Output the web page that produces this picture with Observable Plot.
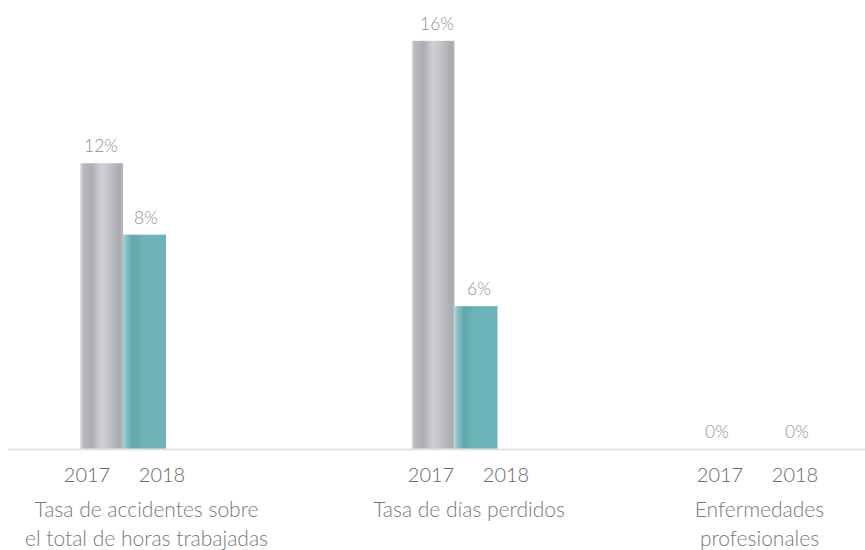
<!DOCTYPE html>
<html>
<head>
<meta charset="utf-8">
<script src="https://cdn.jsdelivr.net/npm/d3@7"></script>
<script src="https://cdn.jsdelivr.net/npm/@observablehq/plot@0.6"></script>
<style>
  body { margin: 0; background: #fff; font-family: "Lato Light", Lato, "Open Sans", sans-serif; }
  #chart { display: flex; width: 865px; height: 550px; overflow: hidden; }
  #chart svg { display: block; flex: none; }
</style>
</head>
<body>
<svg width="0" height="0" style="position:absolute">
  <defs>
    <linearGradient id="grayGrad" x1="0" x2="1" y1="0" y2="0">
      <stop offset="0%" stop-color="#e8e8ea"/>
      <stop offset="7%" stop-color="#b9babf"/>
      <stop offset="28%" stop-color="#adaeb4"/>
      <stop offset="50%" stop-color="#cfd0d4"/>
      <stop offset="66%" stop-color="#c3c4c9"/>
      <stop offset="92%" stop-color="#a9abb1"/>
      <stop offset="100%" stop-color="#b6b7bc"/>
    </linearGradient>
    <linearGradient id="tealGrad" x1="0" x2="1" y1="0" y2="0">
      <stop offset="0%" stop-color="#a9d3d6"/>
      <stop offset="8%" stop-color="#84c1c5"/>
      <stop offset="22%" stop-color="#60a8ae"/>
      <stop offset="45%" stop-color="#6cb2b7"/>
      <stop offset="100%" stop-color="#6db4ba"/>
    </linearGradient>
  </defs>
</svg>
<div id="chart"></div>
<script>
const categories = [
  "Tasa de accidentes sobre\nel total de horas trabajadas",
  "Tasa de días perdidos",
  "Enfermedades\nprofesionales"
];
const years = ["2017", "2018"];
const values2017 = [11.2, 16.0, 0];
const values2018 = [8.4, 5.6, 0];
const labels2017 = ["12%", "16%", "0%"];
const labels2018 = ["8%", "6%", "0%"];

// layout of each group panel (pixel options, not data)
const layout = [
  { width: 296, center: 124,   barDx: -1,    labelDx: [14, -16], catDx: 22,  ruleStart: 8 },
  { width: 316, center: 171.5, barDx: -13.5, labelDx: [6, -27],  catDx: 1,   ruleStart: 0 },
  { width: 253, center: 144.5, barDx: 0,     labelDx: [-3, 2],   catDx: 2.5, ruleStart: 0 }
];
const step = 75, barW = 43;
const font = "'Lato Light', Lato, 'Open Sans', sans-serif";

const chart = document.getElementById("chart");

categories.forEach((cat, i) => {
  const rows = years.map((yr, j) => ({
    year: yr,
    value: j ? values2018[i] : values2017[i],
    label: j ? labels2018[i] : labels2017[i]
  }));
  const L = layout[i];
  const ml = L.center - step;
  const mr = L.width - L.center - step;
  const r17 = rows.filter(d => d.year === "2017");
  const r18 = rows.filter(d => d.year === "2018");

  const svg = Plot.plot({
    width: L.width,
    height: 550,
    marginLeft: ml,
    marginRight: mr,
    marginTop: 0,
    marginBottom: 101,
    style: {
      fontFamily: font,
      fontWeight: 300,
      color: "#646b72",
      background: "transparent",
      overflow: "visible"
    },
    x: { type: "band", domain: years, padding: 0 },
    y: { domain: [0, 17.6], axis: null },
    marks: [
      Plot.barY(r17, { x: "year", y: "value", fill: "url(#grayGrad)", insetLeft: step - barW, dx: L.barDx }),
      Plot.barY(r18, { x: "year", y: "value", fill: "url(#tealGrad)", insetRight: step - barW, dx: L.barDx }),
      Plot.ruleY([0], { stroke: "#e3e3e3", strokeWidth: 2, insetLeft: -(ml - L.ruleStart), insetRight: -mr }),
      Plot.text(r17, { x: "year", y: "value", text: "label", dx: L.labelDx[0], dy: -17, fontSize: 17.5, fill: "#8c9196" }),
      Plot.text(r18, { x: "year", y: "value", text: "label", dx: L.labelDx[1], dy: -17, fontSize: 17.5, fill: "#8c9196" }),
      Plot.axisX({ tickSize: 0, tickPadding: 18, fontSize: 20, label: null, fill: "#646b72" }),
      Plot.text([cat], { text: d => d, frameAnchor: "bottom", lineAnchor: "top", dy: 47, dx: L.catDx, fontSize: 21, lineHeight: 1.38, fill: "#737a81" })
    ]
  });
  chart.appendChild(svg);
});
</script>
</body>
</html>
